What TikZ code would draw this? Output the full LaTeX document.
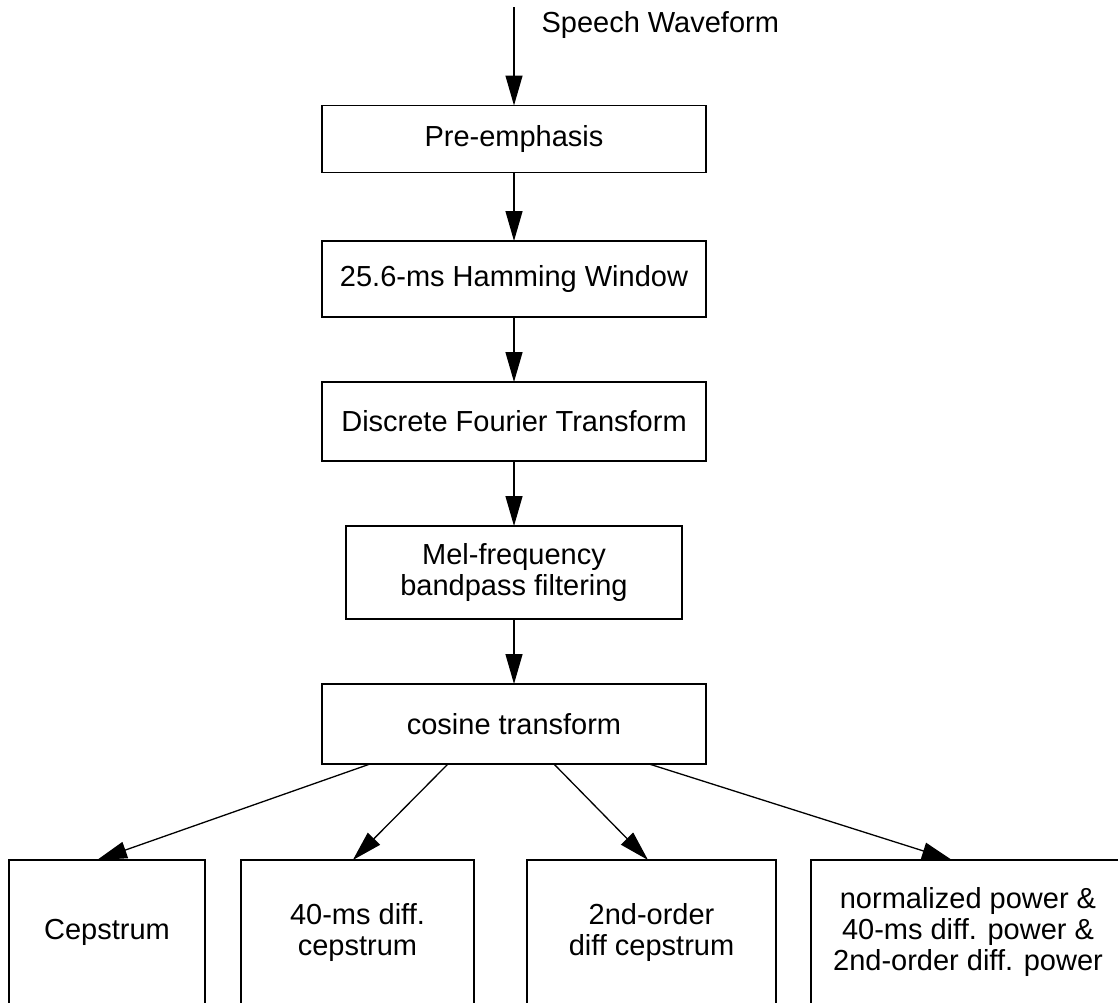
\documentclass[tikz,border=0pt]{standalone}
\usepackage{fontspec}
\setmainfont{Liberation Sans}
\usetikzlibrary{arrows.meta,calc}
\begin{document}
\begin{tikzpicture}[x=1pt,y=-1pt,
  font=\fontsize{29}{31}\selectfont,
  stage/.style={draw, line width=1.3pt, inner sep=0pt, outer sep=0pt, align=center},
  flow/.style={-{Triangle[length=30pt,width=17pt]}, line width=1.3pt}]
\useasboundingbox (0,0) rectangle (1118,1002);
\clip (0,0) rectangle (1118,1002);
\fill[white] (0,0) rectangle (1118,1002);

\coordinate (src) at (514,7);
\node[anchor=base west] (lbl) at (538,32) {Speech Waveform};

\node[stage, minimum width=384pt, minimum height=67pt] (pre) at (514,139) {Pre-emphasis};
\node[stage, minimum width=384pt, minimum height=76pt] (ham) at (514,279) {25.6-ms Hamming Window};
\node[stage, minimum width=384pt, minimum height=79pt] (dft) at (514,421.5) {Discrete Fourier Transform};
\node[stage, minimum width=336pt, minimum height=93pt] (mel) at (514,572.5) {Mel-frequency\\bandpass filtering};
\node[stage, minimum width=384pt, minimum height=80pt] (cos) at (514,724) {cosine transform};

\node[stage, minimum width=196pt, minimum height=144pt] (b1) at (107,932) {Cepstrum};
\node[stage, minimum width=233pt, minimum height=144pt] (b2) at (357.5,932) {40-ms diff.\\cepstrum};
\node[stage, minimum width=249pt, minimum height=144pt] (b3) at (651.5,932) {2nd-order\\diff cepstrum};
\node[stage, minimum width=314pt, minimum height=144pt] (b4) at (968,932) {normalized power \&\\40-ms diff. power \&\\2nd-order diff. power};

\draw[flow] (src) -- (pre.north);
\draw[flow] (pre) -- (ham);
\draw[flow] (ham) -- (dft);
\draw[flow] (dft) -- (mel);
\draw[flow] (mel) -- (cos);

\draw[flow] ($(cos.south west)!0.125!(cos.south east)$) -- ($(b1.north west)!0.449!(b1.north east)$);
\draw[flow] ($(cos.south west)!0.328!(cos.south east)$) -- ($(b2.north west)!0.48!(b2.north east)$);
\draw[flow] ($(cos.south west)!0.604!(cos.south east)$) -- ($(b3.north west)!0.486!(b3.north east)$);
\draw[flow] ($(cos.south west)!0.852!(cos.south east)$) -- ($(b4.north west)!0.449!(b4.north east)$);
\end{tikzpicture}
\end{document}
